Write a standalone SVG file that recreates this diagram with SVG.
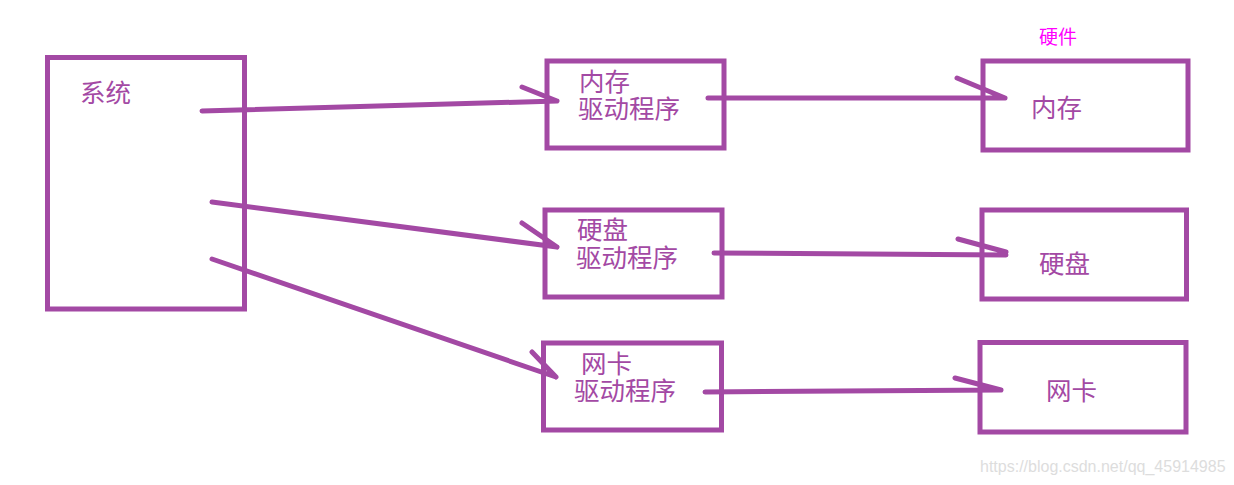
<svg xmlns="http://www.w3.org/2000/svg" width="1234" height="485" viewBox="0 0 1234 485">
<defs>
<style>
.box{fill:none;stroke:#A349A4;stroke-width:5}
.lbl{fill:#A349A4;font-family:"Microsoft YaHei","Noto Sans CJK SC",sans-serif;font-size:25.5px}
.hw{fill:#FF00FF;font-family:"Microsoft YaHei","Noto Sans CJK SC",sans-serif;font-size:19px}
.wm{fill:#DDDDDD;font-family:"Liberation Sans",Arial,sans-serif;font-size:16px}
.con path{fill:none;stroke:#A349A4;stroke-width:5;stroke-linecap:round;stroke-linejoin:round}
</style>
</defs>
<rect width="1234" height="485" fill="#FFFFFF"/>
<g id="system">
<rect class="box" x="47.5" y="57.5" width="197" height="251.5"/>
<text class="lbl" x="80" y="102">系统</text>
</g>
<g id="mem-driver">
<rect class="box" x="547" y="61" width="177" height="87"/>
<text class="lbl" x="579" y="91">内存</text>
<text class="lbl" x="578" y="118">驱动程序</text>
</g>
<g id="disk-driver">
<rect class="box" x="545" y="210" width="177" height="87"/>
<text class="lbl" x="577" y="239">硬盘</text>
<text class="lbl" x="576" y="267">驱动程序</text>
</g>
<g id="nic-driver">
<rect class="box" x="543.5" y="343" width="178" height="87"/>
<text class="lbl" x="581" y="373">网卡</text>
<text class="lbl" x="574" y="400">驱动程序</text>
</g>
<g id="hardware-label">
<text class="hw" x="1039" y="44">硬件</text>
</g>
<g id="mem">
<rect class="box" x="983" y="61" width="205" height="89"/>
<text class="lbl" x="1031" y="117">内存</text>
</g>
<g id="disk">
<rect class="box" x="982" y="210" width="204.5" height="89"/>
<text class="lbl" x="1039" y="273">硬盘</text>
</g>
<g id="nic">
<rect class="box" x="980" y="342.5" width="206" height="89.5"/>
<text class="lbl" x="1046" y="400">网卡</text>
</g>
<g id="connectors" class="con">
<path d="M202,111 L557,101 M522,87 L557,101"/>
<path d="M708,98 L1005,98 M957,78 L1005,98"/>
<path d="M212,202 L557,247 M522,223 L557,247"/>
<path d="M714,253 L1006,255 M958,239 L1006,252"/>
<path d="M212,259 L556,377 M532,352 L556,377"/>
<path d="M705,392 L1001,390 M955,378 L1001,390"/>
</g>
<text class="wm" x="980" y="472">https://blog.csdn.net/qq_45914985</text>
</svg>
